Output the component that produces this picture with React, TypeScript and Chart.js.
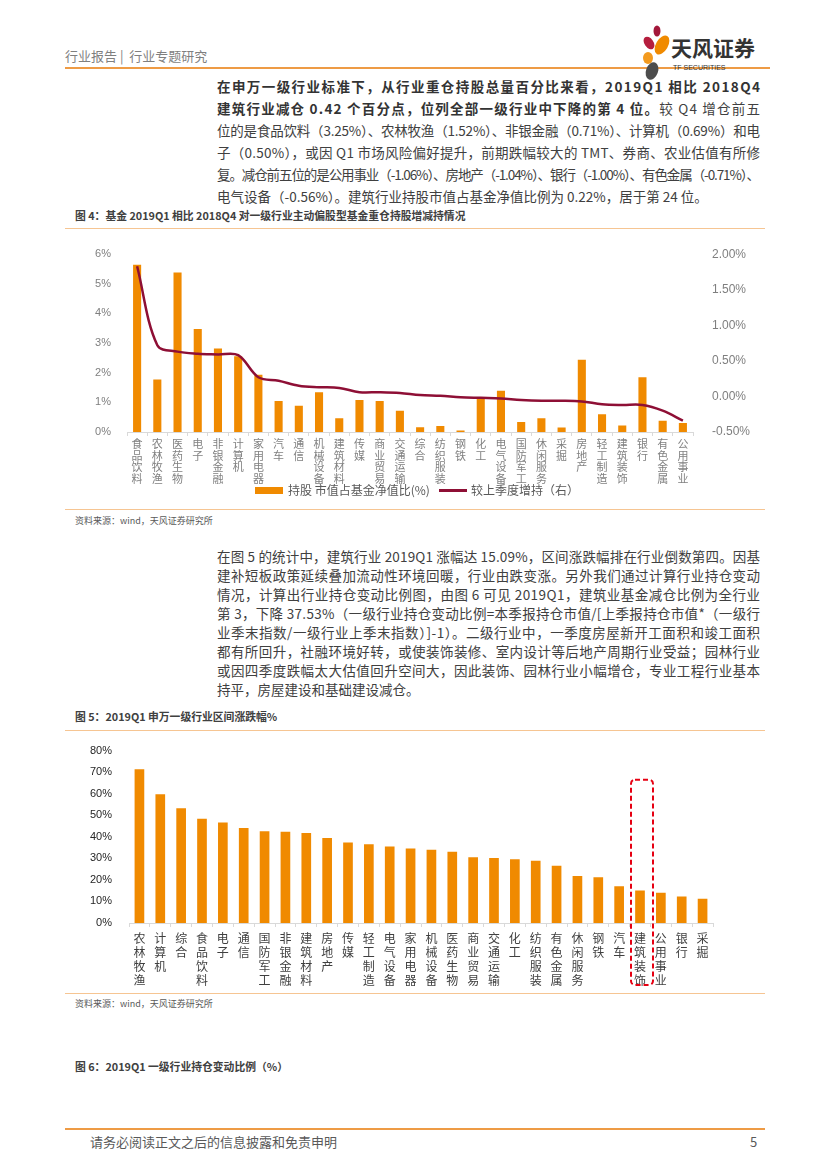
import React, { useEffect, useRef } from "react";
import { Chart, registerables } from "chart.js";

Chart.register(...registerables);

const CJK = '"Noto Sans CJK SC", "Noto Sans", sans-serif';
const NARROW = '"Liberation Sans Narrow", "Liberation Sans", sans-serif';

// ---------- Figure 4 data ----------
const fig4Categories = [
  "食品饮料", "农林牧渔", "医药生物", "电子", "非银金融", "计算机", "家用电器", "汽车", "通信", "机械设备",
  "建筑材料", "传媒", "商业贸易", "交通运输", "综合", "纺织服装", "钢铁", "化工", "电气设备", "国防军工",
  "休闲服务", "采掘", "房地产", "轻工制造", "建筑装饰", "银行", "有色金属", "公用事业",
];
const fig4HoldingRatio = [
  5.64, 1.77, 5.38, 3.48, 2.82, 2.56, 1.93, 1.05, 0.89, 1.34,
  0.46, 1.08, 1.05, 0.72, 0.16, 0.2, 0.05, 1.12, 1.39, 0.34,
  0.46, 0.15, 2.44, 0.6, 0.22, 1.85, 0.38, 0.3,
];
const fig4Change = [
  1.83, 0.72, 0.63, 0.6, 0.59, 0.58, 0.27, 0.22, 0.15, 0.13,
  0.12, 0.06, 0.06, 0.05, 0.02, 0.01, -0.01, -0.02, -0.03, -0.05,
  -0.06, -0.06, -0.07, -0.11, -0.12, -0.12, -0.2, -0.34,
];
const fig4LeftTicks = { min: 0, max: 6, step: 1 };
const fig4RightTicks = { min: -0.5, max: 2, step: 0.5 };
const fig4SeriesNames = ["持股 市值占基金净值比(%)", "较上季度增持（右）"];

// ---------- Figure 5 data ----------
const fig5Categories = [
  "农林牧渔", "计算机", "综合", "食品饮料", "电子", "通信", "国防军工", "非银金融", "建筑材料", "房地产",
  "传媒", "轻工制造", "电气设备", "家用电器", "机械设备", "医药生物", "商业贸易", "交通运输", "化工", "纺织服装",
  "有色金属", "休闲服务", "钢铁", "汽车", "建筑装饰", "公用事业", "银行", "采掘",
];
const fig5Returns = [
  71.4, 59.7, 53.2, 48.4, 46.6, 44.1, 42.6, 42.3, 41.8, 39.4,
  37.4, 36.5, 35.5, 34.6, 34.0, 33.1, 30.5, 30.2, 29.6, 28.9,
  26.6, 21.8, 21.2, 17.1, 15.09, 14.0, 12.3, 11.3,
];
const fig5Ticks = { min: 0, max: 80, step: 10 };
const fig5Highlight = "建筑装饰";

// ---------- Text ----------
type Seg = { t: string; b?: boolean };
const para1: Seg[][] = [
  [{ t: "在申万一级行业标准下，从行业重仓持股总量百分比来看，2019Q1 相比 2018Q4", b: true }],
  [{ t: "建筑行业减仓 0.42 个百分点，位列全部一级行业中下降的第 4 位。", b: true }, { t: "较 Q4 增仓前五" }],
  [{ t: "位的是食品饮料（3.25%）、农林牧渔（1.52%）、非银金融（0.71%）、计算机（0.69%）和电" }],
  [{ t: "子（0.50%），或因 Q1 市场风险偏好提升，前期跌幅较大的 TMT、券商、农业估值有所修" }],
  [{ t: "复。减仓前五位的是公用事业（-1.06%）、房地产（-1.04%）、银行（-1.00%）、有色金属（-0.71%）、" }],
  [{ t: "电气设备（-0.56%）。建筑行业持股市值占基金净值比例为 0.22%，居于第 24 位。" }],
];
const para2: string[] = [
  "在图 5 的统计中，建筑行业 2019Q1 涨幅达 15.09%，区间涨跌幅排在行业倒数第四。因基",
  "建补短板政策延续叠加流动性环境回暖，行业由跌变涨。另外我们通过计算行业持仓变动",
  "情况，计算出行业持仓变动比例图，由图 6 可见 2019Q1，建筑业基金减仓比例为全行业",
  "第 3，下降 37.53%（一级行业持仓变动比例=本季报持仓市值/[上季报持仓市值*（一级行",
  "业季末指数/一级行业上季末指数）]-1）。二级行业中，一季度房屋新开工面积和竣工面积",
  "都有所回升，社融环境好转，或使装饰装修、室内设计等后地产周期行业受益；园林行业",
  "或因四季度跌幅太大估值回升空间大，因此装饰、园林行业小幅增仓，专业工程行业基本",
  "持平，房屋建设和基础建设减仓。",
];

const ORANGE = "#F08A00";
const LINE_RED = "#8E0F35";
const TEXT_W = 543;

const highlightPlugin = {
  id: "highlightBox",
  afterDraw(chart: any) {
    const idx = fig5Categories.indexOf(fig5Highlight);
    if (idx < 0) return;
    const xs = chart.scales.x;
    const ys = chart.scales.y;
    const x = xs.getPixelForValue(idx) + 2;
    const top = ys.getPixelForValue(66.5);
    const bottom = chart.chartArea.bottom + 62;
    const ctx = chart.ctx;
    ctx.save();
    ctx.strokeStyle = "#E60012";
    ctx.lineWidth = 2;
    ctx.setLineDash([5, 3]);
    ctx.beginPath();
    ctx.roundRect(x - 11, top, 22, bottom - top, 4);
    ctx.stroke();
    ctx.restore();
  },
};

function ParaLine({ y, segs, last }: { y: number; segs: Seg[]; last?: boolean }) {
  return (
    <div
      data-justify={last ? undefined : "1"}
      style={{
        position: "absolute",
        left: 217,
        top: y - 11,
        height: 22,
        lineHeight: "22px",
        fontSize: 13.5,
        color: "#404040",
        whiteSpace: "pre",
      }}
    >
      {segs.map((s, i) => (
        <span key={i} style={{ fontWeight: s.b ? 700 : 400, color: s.b ? "#333" : "#404040" }}>
          {s.t}
        </span>
      ))}
    </div>
  );
}

function justifyAll() {
  const els = document.querySelectorAll<HTMLElement>("[data-justify]");
  els.forEach((el) => {
    el.style.letterSpacing = "0px";
    const w = el.getBoundingClientRect().width;
    const n = Array.from(el.textContent || "").length;
    if (n > 1) {
      const ls = (TEXT_W - w) / (n - 1);
      el.style.letterSpacing = `${ls}px`;
    }
  });
}

function Abs({ x, y, size, children, style }: any) {
  return (
    <div
      style={{
        position: "absolute",
        left: x,
        top: y - size * 0.7,
        fontSize: size,
        lineHeight: `${size * 1.4}px`,
        whiteSpace: "pre",
        ...style,
      }}
    >
      {children}
    </div>
  );
}

function HLine({ y, x1, x2, h, color }: any) {
  return <div style={{ position: "absolute", left: x1, top: y, width: x2 - x1, height: h, background: color }} />;
}

export default function App() {
  const c4 = useRef<HTMLCanvasElement>(null);
  const c5 = useRef<HTMLCanvasElement>(null);

  useEffect(() => {
    justifyAll();
    if ((document as any).fonts && (document as any).fonts.ready) {
      (document as any).fonts.ready.then(() => justifyAll());
    }

    Chart.defaults.font.family = CJK;
    const ch4 = new Chart(c4.current as HTMLCanvasElement, {
      data: {
        labels: fig4Categories.map((s) => s.split("")),
        datasets: [
          {
            type: "bar",
            label: fig4SeriesNames[0],
            data: fig4HoldingRatio,
            backgroundColor: ORANGE,
            yAxisID: "y",
            order: 2,
            barPercentage: 0.5,
            categoryPercentage: 0.8,
          },
          {
            type: "line",
            label: fig4SeriesNames[1],
            data: fig4Change,
            borderColor: LINE_RED,
            backgroundColor: LINE_RED,
            borderWidth: 2.5,
            pointRadius: 0,
            tension: 0.35,
            yAxisID: "y1",
            order: 1,
          },
        ],
      } as any,
      options: {
        animation: false,
        responsive: false,
        layout: { padding: { top: 14, left: 0, right: 0, bottom: 0 } },
        plugins: {
          tooltip: { enabled: false },
          legend: { display: false },
        },
        scales: {
          x: {
            grid: { display: true, drawOnChartArea: false, drawTicks: true, tickLength: 4, color: "#d9d9d9", offset: true },
            border: { display: true, color: "#d9d9d9" },
            ticks: {
              autoSkip: false,
              maxRotation: 0,
              minRotation: 0,
              padding: 2,
              color: "#808080",
              font: { size: 11, family: CJK, lineHeight: "11.7px" },
            },
            afterFit: (s: any) => {
              s.height = 74;
            },
          },
          y: {
            position: "left",
            min: fig4LeftTicks.min,
            max: fig4LeftTicks.max,
            grid: { display: false },
            border: { display: false },
            ticks: {
              stepSize: fig4LeftTicks.step,
              padding: 8,
              color: "#7f7f7f",
              font: { size: 11, family: '"Liberation Sans", sans-serif' },
              callback: (v: any) => `${v}%`,
            },
            afterFit: (s: any) => {
              s.width = 52;
            },
          },
          y1: {
            position: "right",
            min: fig4RightTicks.min,
            max: fig4RightTicks.max,
            grid: { display: false },
            border: { display: false },
            ticks: {
              stepSize: fig4RightTicks.step,
              padding: 11,
              color: "#7f7f7f",
              font: { size: 12, family: '"Liberation Sans", sans-serif' },
              callback: (v: any) => `${Number(v).toFixed(2)}%`,
            },
            afterFit: (s: any) => {
              s.width = 72;
            },
          },
        },
      } as any,
    });

    const ch5 = new Chart(c5.current as HTMLCanvasElement, {
      type: "bar",
      data: {
        labels: fig5Categories.map((s) => s.split("")),
        datasets: [
          {
            label: "2019Q1 涨跌幅",
            data: fig5Returns,
            backgroundColor: ORANGE,
            barPercentage: 0.58,
            categoryPercentage: 0.8,
          },
        ],
      },
      options: {
        animation: false,
        responsive: false,
        layout: { padding: { top: 11, left: 0, right: 52, bottom: 0 } },
        plugins: { legend: { display: false }, tooltip: { enabled: false } },
        scales: {
          x: {
            grid: { display: true, drawOnChartArea: false, drawTicks: true, tickLength: 4, color: "#d9d9d9", offset: true },
            border: { display: true, color: "#d9d9d9" },
            ticks: {
              autoSkip: false,
              maxRotation: 0,
              minRotation: 0,
              padding: 4,
              color: "#404040",
              font: { size: 12, family: CJK, lineHeight: "14px" },
            },
            afterFit: (s: any) => {
              s.height = 70;
            },
          },
          y: {
            min: fig5Ticks.min,
            max: fig5Ticks.max,
            grid: { display: false },
            border: { display: false },
            ticks: {
              stepSize: fig5Ticks.step,
              padding: 9,
              color: "#262626",
              font: { size: 11, family: NARROW },
              callback: (v: any) => `${v}%`,
            },
            afterFit: (s: any) => {
              s.width = 54;
            },
          },
        },
      } as any,
      plugins: [highlightPlugin],
    });

    return () => {
      ch4.destroy();
      ch5.destroy();
    };
  }, []);

  const p1Y = [86, 108, 130, 152, 174, 196];
  const p2Y = para2.map((_, i) => 556 + i * 19);

  return (
    <div
      style={{
        position: "absolute",
        left: 0,
        top: 0,
        width: 827,
        height: 1169,
        background: "#fff",
        fontFamily: CJK,
        overflow: "hidden",
      }}
    >
      {/* Header */}
      <Abs x={65} y={56} size={13} style={{ color: "#7f7f7f" }}>
        {"行业报告 |  行业专题研究"}
      </Abs>
      <HLine y={67} x1={65} x2={770} h={2} color="#EE9B45" />
      <svg style={{ position: "absolute", left: 0, top: 0 }} width={827} height={90}>
        <ellipse cx={657} cy={31} rx={3.5} ry={5.5} fill="#A3173A" />
        <ellipse cx={649} cy={43} rx={4.5} ry={7} fill="#B51E3E" transform="rotate(-35 649 43)" />
        <ellipse cx={662} cy={45} rx={6} ry={10.5} fill="#F08A00" transform="rotate(30 662 45)" />
        <ellipse cx={648} cy={58} rx={5} ry={6} fill="#F39A1E" />
        <ellipse cx={652} cy={71} rx={6} ry={9} fill="#4D4D4D" transform="rotate(20 652 71)" />
      </svg>
      <Abs x={671} y={48} size={21} style={{ color: "#333", fontWeight: 700 }}>
        天风证券
      </Abs>
      <Abs x={673} y={68} size={7} style={{ color: "#333", fontFamily: NARROW }}>
        TF SECURITIES
      </Abs>

      {/* Paragraph 1 */}
      {para1.map((segs, i) => (
        <ParaLine key={i} y={p1Y[i]} segs={segs} last={i === para1.length - 1} />
      ))}

      {/* Figure 4 */}
      <Abs x={75} y={216} size={10.8} style={{ color: "#404040", fontWeight: 700 }}>
        图 4：基金 2019Q1 相比 2018Q4 对一级行业主动偏股型基金重仓持股增减持情况
      </Abs>
      <HLine y={228} x1={65} x2={765} h={1} color="#F6C592" />
      <canvas
        ref={c4}
        width={690}
        height={270}
        style={{ position: "absolute", left: 75, top: 236, width: 690, height: 270 }}
      />
      {/* Figure 4 legend */}
      <div style={{ position: "absolute", left: 255, top: 487, width: 28, height: 7, background: ORANGE }} />
      <Abs x={288} y={490} size={12} style={{ color: "#595959" }}>
        {fig4SeriesNames[0]}
      </Abs>
      <div style={{ position: "absolute", left: 439, top: 489, width: 28, height: 3, background: LINE_RED }} />
      <Abs x={471} y={490} size={12} style={{ color: "#595959" }}>
        {fig4SeriesNames[1]}
      </Abs>
      <HLine y={509} x1={65} x2={765} h={1} color="#F6C592" />
      <Abs x={75} y={521} size={9} style={{ color: "#595959" }}>
        资料来源：wind，天风证券研究所
      </Abs>

      {/* Paragraph 2 */}
      {para2.map((t, i) => (
        <ParaLine key={i} y={p2Y[i]} segs={[{ t }]} last={i === para2.length - 1} />
      ))}

      {/* Figure 5 */}
      <Abs x={75} y={717} size={10.8} style={{ color: "#404040", fontWeight: 700 }}>
        图 5：2019Q1 申万一级行业区间涨跌幅%
      </Abs>
      <HLine y={730} x1={65} x2={765} h={1} color="#F6C592" />
      <canvas
        ref={c5}
        width={690}
        height={258}
        style={{ position: "absolute", left: 75, top: 735, width: 690, height: 258 }}
      />
      <HLine y={993} x1={65} x2={765} h={1} color="#F6C592" />
      <Abs x={75} y={1004} size={9} style={{ color: "#595959" }}>
        资料来源：wind，天风证券研究所
      </Abs>

      {/* Figure 6 title */}
      <Abs x={75} y={1067} size={10.8} style={{ color: "#404040", fontWeight: 700 }}>
        图 6：2019Q1 一级行业持仓变动比例（%）
      </Abs>

      {/* Footer */}
      <HLine y={1128} x1={65} x2={765} h={2} color="#EE9B45" />
      <Abs x={90} y={1142} size={13} style={{ color: "#595959" }}>
        请务必阅读正文之后的信息披露和免责申明
      </Abs>
      <Abs x={750} y={1142} size={13} style={{ color: "#595959" }}>
        5
      </Abs>
    </div>
  );
}
